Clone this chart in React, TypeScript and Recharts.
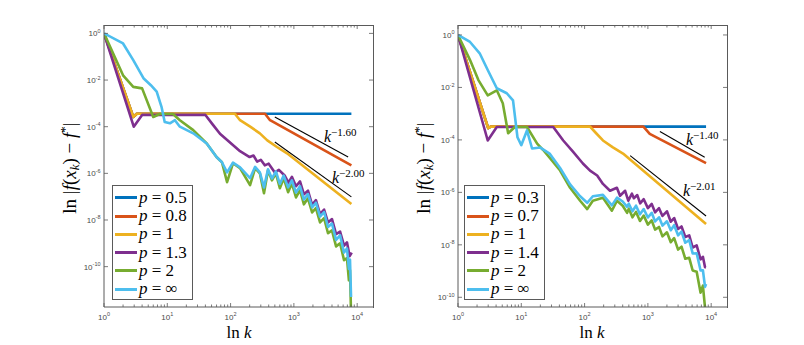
import { LineChart, Line, XAxis, YAxis } from "recharts";

type Pt = [number, number]; // [k, f(x_k) - f*]

// ---- left panel ----
const blueL: Pt[] = [[1, 1], [2.9, 2.6e-4], [3.3, 3.6e-4], [8100, 3.6e-4]];
const redL: Pt[] = [[1, 1], [2.9, 2.6e-4], [3.3, 3.6e-4], [350, 3.6e-4], [420, 1.9e-4], [8100, 2.2e-6]];
const yellowL: Pt[] = [
  [1, 1], [2.9, 2.6e-4], [3.3, 3.6e-4], [117, 3.6e-4], [141, 1.9e-4], [204, 1.0e-4],
  [290, 5.2e-5], [380, 2.6e-5], [540, 1.35e-5], [780, 7.2e-6], [8100, 4.9e-8],
];
const purpleL: Pt[] = [
  [1, 1], [2.95, 1.0e-4], [4.0, 3.2e-4], [40, 3.2e-4], [52, 1.26e-4], [68, 5.0e-5], [100, 2.0e-5],
  [141, 8.9e-6], [200, 5.0e-6], [230, 5.8e-6], [263, 3.2e-6], [300, 3.8e-6], [347, 2.2e-6],
  [400, 2.6e-6], [500, 1.1e-6], [580, 1.4e-6], [720, 7.9e-7], [820, 4.0e-7], [930, 7.1e-7],
  [1080, 2.8e-7], [1250, 4.5e-7], [1440, 1.26e-7], [1670, 1.8e-7], [1940, 4.5e-8], [2230, 7.1e-8],
  [2590, 1.8e-8], [3000, 2.8e-8], [3460, 7.9e-9], [4000, 1.1e-8], [4640, 2.5e-9], [5370, 3.2e-9],
  [6200, 7.9e-10], [6900, 1.1e-9], [7600, 2.8e-10], [8200, 4e-10],
];
const greenL: Pt[] = [
  [1, 1], [2.0, 1.6e-2], [2.9, 5.1e-3], [4.0, 4.4e-3], [6.0, 2.6e-4], [7.6, 3.5e-4], [12.3, 3.5e-4],
  [15.8, 1.9e-4], [25.7, 7.1e-5], [42, 1.9e-5], [60, 5.0e-6], [73, 3.0e-6], [88, 4.2e-7],
  [109, 2.7e-6], [141, 1.66e-6], [203, 3.1e-7], [244, 1.66e-6], [290, 1.0e-6], [337, 1.4e-7],
  [390, 1.35e-6], [450, 5e-7], [520, 1e-6], [600, 2.3e-7], [690, 6.2e-7], [810, 1.55e-7],
  [930, 3.7e-7], [1080, 9.3e-8], [1250, 1.9e-7], [1440, 4.7e-8], [1670, 8.5e-8], [1940, 2.1e-8],
  [2230, 3.2e-8], [2590, 7.9e-9], [3000, 1.2e-8], [3460, 2.7e-9], [4000, 3.6e-9], [4640, 7.4e-10],
  [5370, 1.0e-9], [6200, 1.9e-10], [6900, 2.3e-10], [7400, 2.6e-11], [7700, 7.1e-11], [8000, 1e-12],
];
const cyanL: Pt[] = [
  [1, 1], [2.0, 0.37], [2.9, 7.1e-2], [4.2, 1.2e-2], [5.5, 6.0e-3], [6.8, 3.2e-3], [8.1, 7.1e-4],
  [9.1, 1.6e-4], [11, 1.4e-4], [13.2, 1.9e-4], [15.8, 1.0e-4], [25.7, 5.2e-5], [42, 1.9e-5],
  [60, 5.0e-6], [73, 3.0e-6], [88, 1.1e-6], [109, 2.9e-6], [141, 1.8e-6], [203, 6.2e-7],
  [244, 1.9e-6], [290, 1.1e-6], [337, 2.5e-7], [390, 1.5e-6], [450, 6e-7], [520, 1.2e-6],
  [600, 3.5e-7], [690, 8e-7], [810, 2.5e-7], [930, 5e-7], [1080, 1.5e-7], [1250, 2.8e-7],
  [1440, 7.5e-8], [1670, 1.3e-7], [1940, 3.5e-8], [2230, 5.5e-8], [2590, 1.4e-8], [3000, 2.2e-8],
  [3460, 5e-9], [4000, 7e-9], [4640, 1.4e-9], [5370, 2.2e-9], [6200, 4e-10], [6900, 6e-10],
  [7400, 8e-11], [7700, 2e-10], [8000, 5e-12],
];
const refL1: Pt[] = [[500, 2.6e-4], [7200, 5.0e-6]];
const refL2: Pt[] = [[500, 2.2e-5], [8100, 9.8e-8]];

// ---- right panel ----
const blueR: Pt[] = [[1, 1], [3.0, 2.8e-4], [3.3, 3.2e-4], [8300, 3.2e-4]];
const redR: Pt[] = [[1, 1], [3.0, 2.8e-4], [3.3, 3.2e-4], [850, 3.2e-4], [1070, 1.7e-4], [8300, 1.3e-5]];
const yellowR: Pt[] = [
  [1, 1], [3.0, 2.8e-4], [3.3, 3.2e-4], [122, 3.2e-4], [146, 2.0e-4], [195, 9.5e-5],
  [280, 5.2e-5], [405, 3.0e-5], [8300, 6.2e-8],
];
const purpleR: Pt[] = [
  [1, 1], [2.95, 9.5e-5], [4.1, 3.1e-4], [32, 3.1e-4], [46, 9.5e-5], [66, 3.5e-5], [94, 1.26e-5],
  [122, 6.7e-6], [158, 4.4e-6], [195, 2.1e-6], [252, 1.15e-6], [324, 1.5e-6], [363, 7.4e-7],
  [437, 1.15e-6], [490, 4.8e-7], [560, 8.9e-7], [600, 6.0e-7], [680, 7.9e-7], [755, 3.8e-7],
  [860, 5.5e-7], [1000, 2.5e-7], [1150, 3.6e-7], [1300, 1.74e-7], [1500, 2.5e-7], [1700, 1.26e-7],
  [2000, 1.9e-7], [2300, 7.6e-8], [2600, 1.05e-7], [3000, 4.0e-8], [3400, 5.0e-8], [3900, 2.0e-8],
  [4500, 2.3e-8], [5100, 7.9e-9], [5900, 9.5e-9], [6800, 2.8e-9], [7400, 3.5e-9], [8000, 1.4e-9],
  [8300, 1.4e-9],
];
const greenR: Pt[] = [
  [1, 1], [1.55, 0.11], [2.1, 1.9e-2], [2.95, 5.0e-3], [4.1, 7.8e-3], [5.1, 2.5e-3], [6.2, 1.8e-4],
  [7.9, 3.1e-4], [12.3, 3.1e-4], [17.8, 7.2e-5], [22, 4.2e-5], [28, 2.1e-5], [41, 6.8e-6],
  [59, 1.5e-6], [85, 4.8e-7], [110, 2.3e-7], [135, 4.8e-7], [195, 6.2e-7], [270, 2.0e-7],
  [325, 4.8e-7], [400, 3.1e-7], [470, 1.66e-7], [500, 2.4e-7], [570, 1.12e-7], [650, 1.8e-7],
  [750, 8.1e-8], [860, 1.3e-7], [1000, 5.9e-8], [1150, 8.5e-8], [1300, 3.8e-8], [1500, 4.8e-8],
  [1700, 2.1e-8], [2000, 3.0e-8], [2300, 1.26e-8], [2600, 1.8e-8], [3000, 6.6e-9], [3400, 8.5e-9],
  [3900, 2.95e-9], [4500, 3.2e-9], [5100, 1.05e-9], [5900, 9.5e-10], [6800, 1.5e-10],
  [7400, 2.8e-10], [8000, 4e-11], [8200, 2.5e-11],
];
const cyanR: Pt[] = [
  [1, 1], [1.55, 0.54], [2.2, 0.2], [2.95, 4.6e-2], [4.1, 9.3e-3], [5.9, 6.0e-3], [7.4, 3.2e-3],
  [8.7, 1.26e-4], [10, 6.3e-5], [12.3, 2.3e-4], [14.8, 4.7e-5], [20, 5.1e-5], [28, 3.0e-5],
  [41, 8.5e-6], [59, 2.0e-6], [85, 7.1e-7], [110, 4.0e-7], [135, 7.1e-7], [195, 8.0e-7],
  [270, 3.2e-7], [325, 6.3e-7], [400, 4.5e-7], [470, 2.8e-7], [500, 3.7e-7], [570, 1.9e-7],
  [650, 3.1e-7], [750, 1.45e-7], [860, 2.3e-7], [1000, 1.1e-7], [1150, 1.66e-7], [1300, 7.8e-8],
  [1500, 1.12e-7], [1700, 5.4e-8], [2000, 7.9e-8], [2300, 3.6e-8], [2600, 5.6e-8], [3000, 2.3e-8],
  [3400, 3.2e-8], [3900, 1.2e-8], [4500, 1.5e-8], [5100, 4.7e-9], [5900, 4.8e-9], [6800, 1.05e-9],
  [7400, 1.07e-9], [8000, 2.5e-10], [8300, 3.2e-10],
];
const refR1: Pt[] = [[1550, 2.1e-4], [7900, 2.2e-5]];
const refR2: Pt[] = [[525, 2.5e-5], [8300, 1.26e-7]];

const pLeft = ["0.5", "0.8", "1", "1.3", "2", "\u221e"];
const pRight = ["0.3", "0.7", "1", "1.4", "2", "\u221e"];
const slopeLeft = ["\u22121.60", "\u22122.00"];
const slopeRight = ["\u22121.40", "\u22122.01"];

const xMajor = [1, 10, 100, 1000, 10000];
const yMajor = [1e-10, 1e-8, 1e-6, 1e-4, 1e-2, 1];

const COLORS = ["#0072BD", "#D95319", "#EDB120", "#7E2F8E", "#77AC30", "#4DBEEE"];
const AXIS = "#5a5a5a";
const TXT = "#4a4a4a";
const SERIF = "'Liberation Serif', 'Times New Roman', serif";
const SANS = "'Liberation Sans', Arial, sans-serif";

const W = 400;
const H = 345;
const PL = 104; // plot left inside a panel
const PT = 25;
const PW = 269;
const PH = 282;
const X_MAX = 10 ** 4.25;
const PANEL_LEFT = [0, 354];

const xTicks = [
  ...xMajor,
  ...xMajor.slice(0, -1).flatMap((m) => [2, 3, 4, 5, 6, 7, 8, 9].map((d) => d * m)),
].sort((a, b) => a - b);

const exp10 = (v: number) => Math.round(Math.log10(v));
const isMajor = (v: number) => Math.abs(Math.log10(v) - exp10(v)) < 1e-6;
const rows = (pts: Pt[]) => pts.map(([k, f]) => ({ k, f }));

// bottom ticks point inward and are mirrored on the top edge
const XTick = (props: any) => {
  const { x, y, payload } = props;
  const v = payload.value;
  const major = isMajor(v);
  const len = major ? 4 : 2.5;
  const top = y - PH;
  return (
    <g>
      <line x1={x} x2={x} y1={y} y2={y - len} stroke={AXIS} strokeWidth={0.8} />
      <line x1={x} x2={x} y1={top} y2={top + len} stroke={AXIS} strokeWidth={0.8} />
      {major && (
        <text x={x} y={y + 12.5} textAnchor="middle" fontFamily={SANS} fontSize={8} fill={TXT}>
          10<tspan dy={-3.5} fontSize={5.5}>{exp10(v)}</tspan>
        </text>
      )}
    </g>
  );
};

const YTick = (props: any) => {
  const { x, y, payload } = props;
  const right = x + PW;
  return (
    <g>
      <line x1={x} x2={x + 4} y1={y} y2={y} stroke={AXIS} strokeWidth={0.8} />
      <line x1={right} x2={right - 4} y1={y} y2={y} stroke={AXIS} strokeWidth={0.8} />
      <text x={x - 3.5} y={y + 3} textAnchor="end" fontFamily={SANS} fontSize={8} fill={TXT}>
        10<tspan dy={-3.5} fontSize={5.5}>{exp10(payload.value)}</tspan>
      </text>
    </g>
  );
};

type PanelProps = { left: number; series: Pt[][]; refs: Pt[][]; yDomain: [number, number] };

const Panel = ({ left, series, refs, yDomain }: PanelProps) => (
  <div style={{ position: "absolute", left, top: 0 }}>
    <LineChart
      width={W}
      height={H}
      margin={{ top: PT, right: W - PL - PW, bottom: H - PT - PH - 30, left: PL - 40 }}
    >
      <XAxis
        type="number"
        dataKey="k"
        scale="log"
        domain={[1, X_MAX]}
        allowDataOverflow
        ticks={xTicks}
        interval={0}
        tick={XTick}
        tickLine={false}
        tickSize={0}
        tickMargin={0}
        height={30}
        axisLine={{ stroke: AXIS }}
      />
      <YAxis
        type="number"
        scale="log"
        domain={yDomain}
        allowDataOverflow
        ticks={yMajor}
        interval={0}
        tick={YTick}
        tickLine={false}
        tickSize={0}
        tickMargin={0}
        width={40}
        axisLine={{ stroke: AXIS }}
      />
      {series.map((s, i) => (
        <Line
          key={i}
          data={rows(s)}
          dataKey="f"
          type="linear"
          stroke={COLORS[i]}
          strokeWidth={2.6}
          strokeLinejoin="round"
          dot={false}
          activeDot={false}
          isAnimationActive={false}
        />
      ))}
      {refs.map((s, i) => (
        <Line
          key={"r" + i}
          data={rows(s)}
          dataKey="f"
          type="linear"
          stroke="#000"
          strokeWidth={1.1}
          dot={false}
          activeDot={false}
          isAnimationActive={false}
        />
      ))}
    </LineChart>
  </div>
);

const Frame = ({ left }: { left: number }) => (
  <div
    style={{
      position: "absolute",
      left: left + PL,
      top: PT,
      width: PW + 1,
      height: PH + 1,
      borderTop: `1px solid ${AXIS}`,
      borderRight: `1px solid ${AXIS}`,
      boxSizing: "border-box",
      pointerEvents: "none",
    }}
  />
);

const LegendBox = ({ left, labels }: { left: number; labels: string[] }) => (
  <div
    style={{
      position: "absolute",
      left,
      top: 185,
      width: 81,
      height: 115,
      border: `1px solid ${AXIS}`,
      background: "#fff",
      boxSizing: "border-box",
    }}
  >
    {labels.map((l, i) => (
      <div
        key={l + i}
        style={{
          position: "absolute",
          left: 2,
          top: 11.7 + i * 18.3 - 10,
          height: 20,
          display: "flex",
          alignItems: "center",
          whiteSpace: "nowrap",
        }}
      >
        <div style={{ width: 22, height: 3, background: COLORS[i] }} />
        <span style={{ marginLeft: 2, fontFamily: SERIF, fontSize: 17, color: "#000", lineHeight: "20px" }}>
          <i>p</i> = {l}
        </span>
      </div>
    ))}
  </div>
);

const YTitle = ({ x }: { x: number }) => (
  <text transform={`translate(${x},168) rotate(-90)`} textAnchor="middle" fontFamily={SERIF} fontSize={19}>
    ln |<tspan fontStyle="italic">f</tspan>(<tspan fontStyle="italic">x</tspan>
    <tspan fontStyle="italic" fontSize={13} dy={3}>k</tspan>
    <tspan dy={-3}>) {"\u2212"} </tspan>
    <tspan fontStyle="italic">f</tspan>
    <tspan fontSize={13} dy={-7}>*</tspan>
    <tspan dy={7}>|</tspan>
  </text>
);

const Slope = ({ x, y, s }: { x: number; y: number; s: string }) => (
  <text x={x} y={y} fontFamily={SERIF} fontSize={16}>
    <tspan fontStyle="italic">k</tspan>
    <tspan fontSize={11} dy={-6}>{s}</tspan>
  </text>
);

export default function App() {
  return (
    <div style={{ position: "absolute", left: 0, top: 0, width: 804, height: 345, background: "#fff" }}>
      <Panel
        left={PANEL_LEFT[0]}
        series={[blueL, redL, yellowL, purpleL, greenL, cyanL]}
        refs={[refL1, refL2]}
        yDomain={[10 ** -11.73, 10 ** 0.36]}
      />
      <Panel
        left={PANEL_LEFT[1]}
        series={[blueR, redR, yellowR, purpleR, greenR, cyanR]}
        refs={[refR1, refR2]}
        yDomain={[10 ** -10.37, 10 ** 0.38]}
      />
      {PANEL_LEFT.map((l) => (
        <Frame key={l} left={l} />
      ))}
      <LegendBox left={112} labels={pLeft} />
      <LegendBox left={464} labels={pRight} />
      <svg width={804} height={345} style={{ position: "absolute", left: 0, top: 0, pointerEvents: "none" }}>
        <YTitle x={76} />
        <YTitle x={430} />
        <text x={239} y={338} textAnchor="middle" fontFamily={SERIF} fontSize={17}>
          ln <tspan fontStyle="italic">k</tspan>
        </text>
        <text x={592} y={338} textAnchor="middle" fontFamily={SERIF} fontSize={17}>
          ln <tspan fontStyle="italic">k</tspan>
        </text>
        <Slope x={324} y={142} s={slopeLeft[0]} />
        <Slope x={332} y={183} s={slopeLeft[1]} />
        <Slope x={686} y={145} s={slopeRight[0]} />
        <Slope x={683} y={196} s={slopeRight[1]} />
      </svg>
    </div>
  );
}
